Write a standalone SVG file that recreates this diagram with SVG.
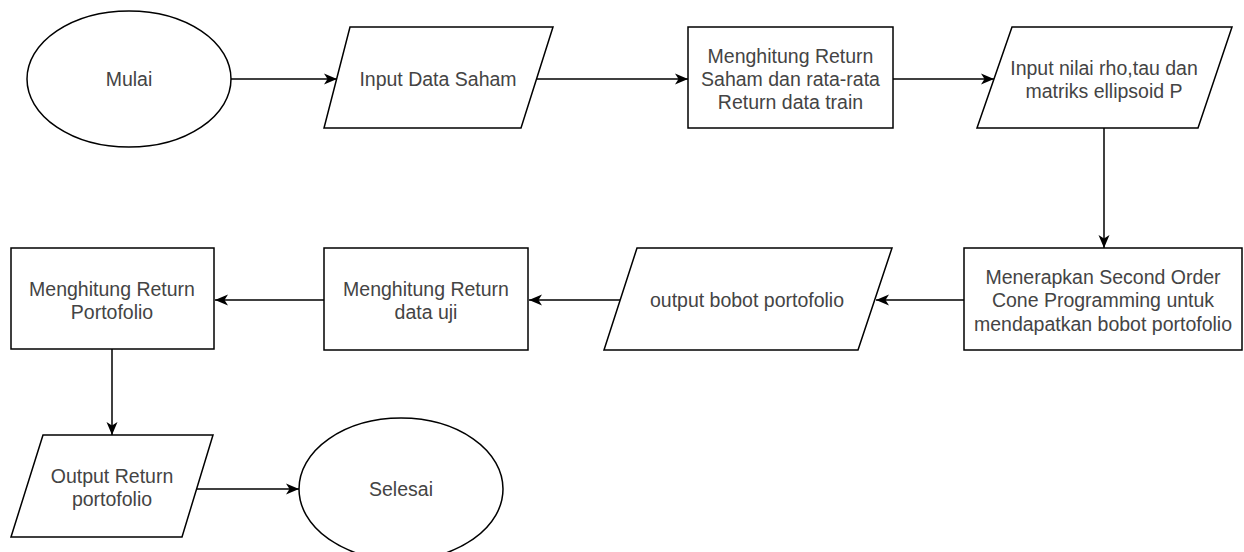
<svg xmlns="http://www.w3.org/2000/svg" width="1244" height="552" viewBox="0 0 1244 552">
<style>
.shape{fill:#ffffff;stroke:#000000;stroke-width:1.5}
.edge{fill:none;stroke:#000000;stroke-width:1.5;marker-end:url(#arr)}
text{font-family:"Liberation Sans",Arial,sans-serif;font-size:19.5px;fill:#444444;text-anchor:middle;dominant-baseline:central}
</style>
<defs>
<marker id="arr" markerUnits="userSpaceOnUse" markerWidth="14" markerHeight="12" refX="13" refY="6" orient="auto">
<path d="M0,0.5 L13,6 L0,11.5 L3.5,6 z" fill="#000000"/>
</marker>
</defs>
<rect width="1244" height="552" fill="#ffffff"/>
<g id="connectors">
<line class="edge" x1="231" y1="79" x2="337" y2="79"/>
<line class="edge" x1="536" y1="79" x2="688" y2="79"/>
<line class="edge" x1="893" y1="79" x2="994" y2="79"/>
<line class="edge" x1="1104" y1="128" x2="1104" y2="248"/>
<line class="edge" x1="964" y1="300" x2="876" y2="300"/>
<line class="edge" x1="620" y1="300" x2="529" y2="300"/>
<line class="edge" x1="324" y1="300" x2="215" y2="300"/>
<line class="edge" x1="112" y1="349" x2="112" y2="435"/>
<line class="edge" x1="197" y1="489" x2="299" y2="489"/>
</g>
<g id="mulai">
<ellipse class="shape" cx="129" cy="79" rx="102" ry="68"/>
<text x="129" y="79">Mulai</text>
</g>
<g id="input-data-saham">
<polygon class="shape" points="350,27 553,27 521,128 324,128"/>
<text x="438" y="79">Input Data Saham</text>
</g>
<g id="menghitung-return-saham">
<rect class="shape" x="688" y="27" width="205" height="101"/>
<text x="790.5" y="56">Menghitung Return</text>
<text x="790.5" y="79">Saham dan rata-rata</text>
<text x="790.5" y="102">Return data train</text>
</g>
<g id="input-nilai">
<polygon class="shape" points="1012,27 1232,27 1198,128 977,128"/>
<text x="1104" y="68">Input nilai rho,tau dan</text>
<text x="1104" y="91">matriks ellipsoid P</text>
</g>
<g id="menerapkan-socp">
<rect class="shape" x="964" y="248" width="278" height="102"/>
<text x="1103" y="277">Menerapkan Second Order</text>
<text x="1103" y="300">Cone Programming untuk</text>
<text x="1103" y="324">mendapatkan bobot portofolio</text>
</g>
<g id="output-bobot">
<polygon class="shape" points="637,248 892,248 858,350 604,350"/>
<text x="747" y="300">output bobot portofolio</text>
</g>
<g id="menghitung-return-uji">
<rect class="shape" x="324" y="248" width="204" height="102"/>
<text x="426" y="289">Menghitung Return</text>
<text x="426" y="312">data uji</text>
</g>
<g id="menghitung-return-portofolio">
<rect class="shape" x="11" y="248" width="203" height="101"/>
<text x="112" y="289">Menghitung Return</text>
<text x="112" y="312">Portofolio</text>
</g>
<g id="output-return">
<polygon class="shape" points="43,435 213,435 182,537 11,537"/>
<text x="112" y="476">Output Return</text>
<text x="112" y="499">portofolio</text>
</g>
<g id="selesai">
<ellipse class="shape" cx="401" cy="489" rx="102" ry="71"/>
<text x="401" y="489">Selesai</text>
</g>
</svg>
